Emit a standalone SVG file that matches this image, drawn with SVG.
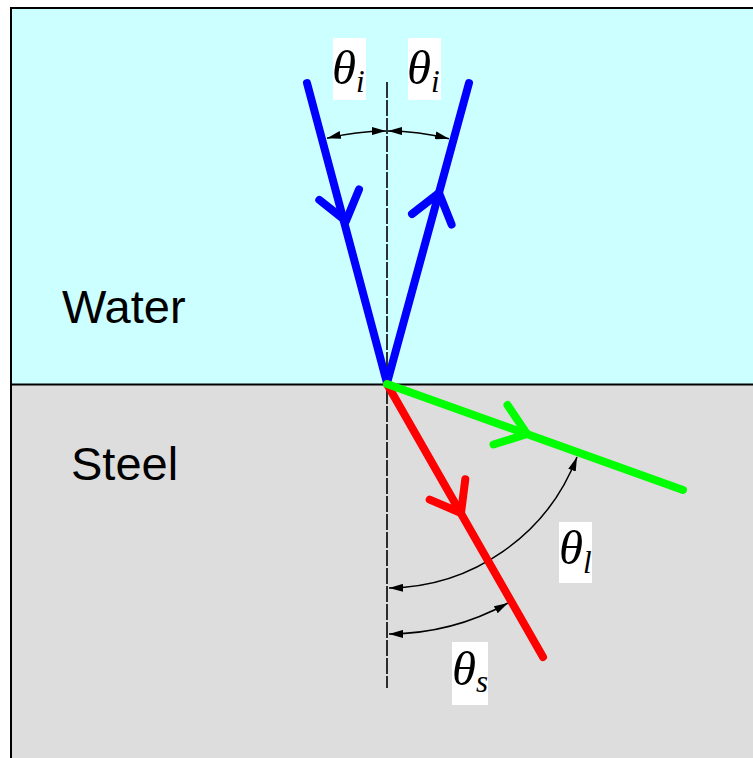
<svg xmlns="http://www.w3.org/2000/svg" width="753" height="758" viewBox="0 0 753 758">
<defs>
<style>
.ray{fill:none;stroke-width:8;stroke-linecap:round;stroke-linejoin:round}
.blue{stroke:#0000FF}
.green{stroke:#00FF00}
.red{stroke:#FF0000}
.arc{fill:none;stroke:#000;stroke-width:1.5}
.lbl{font-family:"Liberation Sans",Arial,sans-serif;font-size:47px;fill:#000}
.th{font-family:"Liberation Serif","Times New Roman",serif;font-style:italic;font-size:49px;fill:#000}
.sub{font-size:31px}
.box{fill:#FFFFFF}
</style>
<marker id="ah" viewBox="0 0 14 8" refX="14" refY="4" markerWidth="14" markerHeight="8" markerUnits="userSpaceOnUse" orient="auto-start-reverse">
<path d="M0,0 L14,4 L0,8 Z" fill="#000"/>
</marker>
</defs>
<g id="media">
<rect x="11" y="8" width="760" height="376" fill="#CCFFFF"/>
<rect x="11" y="384" width="760" height="390" fill="#DDDDDD"/>
<rect x="11" y="8" width="760" height="770" fill="none" stroke="#000" stroke-width="2"/>
<line x1="11" y1="384.5" x2="753" y2="384.5" stroke="#000" stroke-width="2"/>
</g>
<g id="labels">
<text class="lbl" x="62" y="323">Water</text>
<text class="lbl" x="71" y="480">Steel</text>
</g>
<g id="connectors">
<line id="normal" x1="387" y1="82" x2="387" y2="688" stroke="#000" stroke-width="1.6" stroke-dasharray="16 2"/>
<path class="arc" d="M327,138.3 A252,252 0 0 1 386,131" marker-start="url(#ah)" marker-end="url(#ah)"/>
<path class="arc" d="M388,131 A252,252 0 0 1 449,138.8" marker-start="url(#ah)" marker-end="url(#ah)"/>
<path class="arc" d="M389,588 A204,204 0 0 0 577,457" marker-start="url(#ah)" marker-end="url(#ah)"/>
<path class="arc" d="M389,634 A250,250 0 0 0 508,603" marker-start="url(#ah)" marker-end="url(#ah)"/>
</g>
<g id="rays">
<g id="incident">
<line class="ray blue" x1="307" y1="83" x2="387" y2="383"/>
<polyline class="ray blue" points="319.3,199.9 346,221 359,189.5"/>
</g>
<g id="reflected">
<line class="ray blue" x1="387" y1="383" x2="469" y2="83"/>
<polyline class="ray blue" points="412,214 439,193 451.6,224.6"/>
</g>
<g id="shear">
<line class="ray red" x1="387" y1="384" x2="543" y2="657"/>
<polyline class="ray red" points="465.3,479.3 461,513 429.7,499.6"/>
</g>
<g id="longitudinal">
<line class="ray green" x1="387" y1="384" x2="683" y2="490"/>
<polyline class="ray green" points="507.5,405 527,434 493.5,444.5"/>
</g>
</g>
<g id="theta-i-left">
<rect class="box" x="333" y="38" width="33" height="62"/>
<text class="th" x="332" y="84">θ<tspan class="sub" dy="8">i</tspan></text>
</g>
<g id="theta-i-right">
<rect class="box" x="408" y="38" width="33" height="62"/>
<text class="th" x="407" y="84">θ<tspan class="sub" dy="8">i</tspan></text>
</g>
<g id="theta-l">
<rect class="box" x="559" y="522" width="33" height="61"/>
<text class="th" x="559" y="564">θ<tspan class="sub" dy="9">l</tspan></text>
</g>
<g id="theta-s">
<rect class="box" x="452" y="642" width="36" height="63"/>
<text class="th" x="452" y="685">θ<tspan class="sub" dy="7">s</tspan></text>
</g>
</svg>
